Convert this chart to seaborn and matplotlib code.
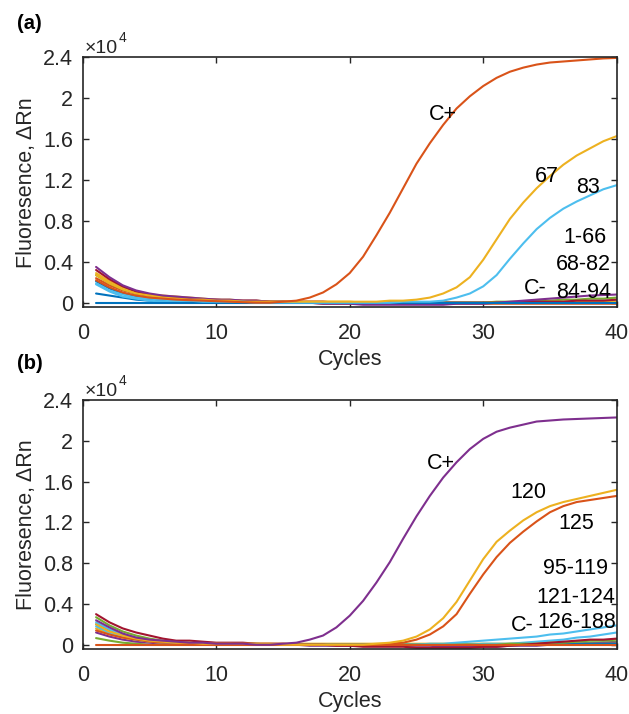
import matplotlib
matplotlib.use("Agg")
import matplotlib.pyplot as plt
import pandas as pd
import seaborn as sns

# qPCR amplification curves, fluorescence in units of 1e4
cycles = list(range(1, 41))

# ── panel (a): samples 1-94 ───────────────────────────────────────────────────
a_cpos = [0.22, 0.15, 0.10, 0.07, 0.05, 0.04, 0.03, 0.025, 0.02, 0.015,
          0.01, 0.005, 0.00, 0.00, 0.01, 0.02, 0.05, 0.10, 0.18, 0.29,
          0.45, 0.66, 0.88, 1.12, 1.36, 1.56, 1.74, 1.90, 2.02, 2.12,
          2.20, 2.26, 2.30, 2.33, 2.35, 2.36, 2.37, 2.38, 2.39, 2.395]
a_67 = [0.27, 0.19, 0.13, 0.09, 0.07, 0.05, 0.04, 0.03, 0.03, 0.02,
        0.02, 0.01, 0.01, 0.01, 0.01, 0.01, 0.01, 0.01, 0.01, 0.01,
        0.01, 0.01, 0.02, 0.02, 0.03, 0.05, 0.09, 0.15, 0.25, 0.42,
        0.62, 0.82, 0.98, 1.12, 1.24, 1.35, 1.44, 1.51, 1.58, 1.63]
a_83 = [0.19, 0.12, 0.08, 0.05, 0.04, 0.03, 0.02, 0.02, 0.01, 0.01,
        0.01, 0.01, 0.00, 0.00, 0.00, 0.00, 0.00, 0.00, 0.00, 0.00,
        0.00, 0.00, 0.00, 0.01, 0.01, 0.01, 0.02, 0.05, 0.09, 0.16,
        0.27, 0.43, 0.58, 0.72, 0.83, 0.92, 0.99, 1.05, 1.11, 1.15]
a_cneg = [0.00, 0.00, 0.00, 0.00, 0.00, 0.00, 0.00, 0.00, 0.00, 0.00,
          0.00, 0.00, 0.00, 0.00, 0.00, 0.00, 0.00, 0.00, 0.00, 0.00,
          0.00, 0.00, 0.00, 0.00, 0.00, 0.00, 0.00, 0.00, 0.00, 0.00,
          0.00, 0.00, 0.00, 0.00, 0.00, 0.00, 0.00, 0.00, 0.00, 0.00]
a_neg1 = [0.35, 0.25, 0.17, 0.12, 0.09, 0.07, 0.06, 0.05, 0.04, 0.03,
          0.03, 0.02, 0.02, 0.01, 0.01, 0.00, 0.00, -0.01, -0.01, -0.01,
          -0.02, -0.02, -0.02, -0.02, -0.02, -0.02, -0.02, -0.01, -0.01, -0.01,
          0.00, 0.01, 0.02, 0.03, 0.04, 0.05, 0.06, 0.07, 0.075, 0.08]
a_neg2 = [0.32, 0.23, 0.16, 0.11, 0.08, 0.06, 0.05, 0.04, 0.03, 0.03,
          0.02, 0.02, 0.02, 0.01, 0.01, 0.01, 0.01, 0.01, 0.00, 0.00,
          0.00, 0.00, 0.00, 0.00, 0.00, 0.00, 0.00, 0.00, 0.00, 0.00,
          0.00, 0.00, 0.01, 0.01, 0.01, 0.01, 0.02, 0.02, 0.02, 0.03]
a_neg3 = [0.29, 0.21, 0.15, 0.11, 0.08, 0.07, 0.06, 0.05, 0.04, 0.03,
          0.03, 0.02, 0.02, 0.01, 0.01, 0.01, 0.01, 0.01, 0.01, 0.01,
          0.00, 0.00, 0.00, 0.00, 0.00, 0.00, 0.00, 0.00, 0.00, 0.00,
          0.00, 0.00, 0.00, 0.00, 0.01, 0.01, 0.01, 0.01, 0.01, 0.01]
a_neg4 = [0.27, 0.19, 0.13, 0.09, 0.07, 0.05, 0.04, 0.03, 0.03, 0.02,
          0.02, 0.01, 0.01, 0.01, 0.01, 0.00, 0.00, 0.00, 0.00, 0.00,
          0.00, 0.00, 0.00, 0.00, 0.00, 0.00, 0.00, 0.00, 0.00, 0.00,
          0.01, 0.01, 0.01, 0.02, 0.02, 0.03, 0.03, 0.04, 0.04, 0.05]
a_neg5 = [0.24, 0.17, 0.12, 0.09, 0.07, 0.05, 0.04, 0.03, 0.03, 0.02,
          0.02, 0.01, 0.01, 0.01, 0.00, 0.00, 0.00, -0.01, -0.01, -0.01,
          -0.01, -0.01, -0.01, -0.01, -0.01, -0.01, -0.01, -0.01, -0.01, -0.01,
          -0.01, -0.01, -0.01, -0.01, -0.01, -0.01, -0.01, -0.01, -0.01, -0.01]
a_neg6 = [0.18, 0.11, 0.06, 0.04, 0.02, 0.01, 0.01, 0.00, 0.00, 0.00,
          0.00, 0.00, 0.00, 0.00, 0.00, 0.00, 0.00, 0.00, 0.00, 0.00,
          0.00, 0.00, 0.00, 0.00, 0.00, 0.00, 0.00, 0.00, 0.00, 0.00,
          0.00, 0.00, 0.00, 0.01, 0.01, 0.01, 0.01, 0.02, 0.02, 0.02]
a_neg7 = [0.21, 0.14, 0.09, 0.06, 0.04, 0.03, 0.02, 0.02, 0.01, 0.01,
          0.01, 0.00, 0.00, 0.00, 0.00, 0.00, 0.00, 0.00, 0.00, 0.00,
          0.00, 0.00, 0.00, 0.00, 0.00, 0.00, 0.00, 0.00, 0.00, 0.00,
          0.00, 0.00, 0.00, 0.00, 0.00, 0.00, 0.00, 0.00, 0.01, 0.01]
a_neg8 = [0.09, 0.07, 0.05, 0.03, 0.02, 0.01, 0.01, 0.00, 0.00, 0.00,
          0.00, 0.00, 0.00, 0.00, 0.00, 0.00, 0.00, 0.00, 0.00, 0.00,
          0.00, 0.00, 0.00, 0.00, 0.00, 0.00, 0.00, 0.00, 0.00, 0.00,
          0.00, 0.00, 0.00, 0.00, 0.00, 0.00, 0.00, 0.00, 0.00, 0.00]

# ── panel (b): samples 95-188 ─────────────────────────────────────────────────
b_cpos = [0.24, 0.17, 0.11, 0.07, 0.05, 0.04, 0.03, 0.02, 0.02, 0.01,
          0.01, 0.01, 0.00, 0.00, 0.01, 0.02, 0.05, 0.09, 0.17, 0.285,
          0.43, 0.61, 0.81, 1.04, 1.26, 1.46, 1.64, 1.79, 1.92, 2.02,
          2.09, 2.13, 2.16, 2.19, 2.20, 2.21, 2.215, 2.22, 2.225, 2.23]
b_120 = [0.20, 0.13, 0.09, 0.06, 0.04, 0.03, 0.02, 0.02, 0.01, 0.01,
         0.01, 0.01, 0.01, 0.01, 0.00, 0.00, 0.00, 0.00, 0.00, 0.00,
         0.00, 0.01, 0.02, 0.04, 0.08, 0.15, 0.26, 0.42, 0.63, 0.84,
         1.01, 1.12, 1.22, 1.30, 1.36, 1.40, 1.43, 1.46, 1.49, 1.52]
b_125 = [0.14, 0.10, 0.07, 0.05, 0.03, 0.02, 0.02, 0.01, 0.01, 0.01,
         0.01, 0.00, 0.00, 0.00, 0.00, 0.00, 0.00, 0.00, 0.00, 0.00,
         0.00, 0.00, 0.01, 0.02, 0.05, 0.10, 0.18, 0.30, 0.50, 0.69,
         0.86, 1.00, 1.11, 1.21, 1.30, 1.36, 1.40, 1.42, 1.44, 1.46]
b_cneg = [0.00, 0.00, 0.00, 0.00, 0.00, 0.00, 0.00, 0.00, 0.00, 0.00,
          0.00, 0.00, 0.00, 0.00, 0.00, 0.00, 0.00, 0.00, 0.00, 0.00,
          0.00, 0.00, 0.00, 0.00, 0.00, 0.00, 0.00, 0.00, 0.00, 0.00,
          0.00, 0.00, 0.00, 0.00, 0.00, 0.00, 0.00, 0.00, 0.00, 0.00]
b_neg1 = [0.30, 0.22, 0.16, 0.12, 0.09, 0.06, 0.04, 0.04, 0.03, 0.02,
          0.02, 0.02, 0.01, 0.01, 0.01, 0.00, 0.00, 0.00, -0.01, -0.01,
          -0.02, -0.02, -0.02, -0.02, -0.03, -0.03, -0.03, -0.03, -0.03, -0.02,
          -0.02, -0.01, 0.00, 0.01, 0.02, 0.03, 0.04, 0.05, 0.05, 0.06]
b_neg2 = [0.27, 0.19, 0.13, 0.09, 0.06, 0.04, 0.03, 0.02, 0.02, 0.01,
          0.01, 0.01, 0.01, 0.00, 0.00, 0.00, 0.00, 0.00, 0.00, 0.00,
          0.00, 0.00, 0.00, 0.00, 0.00, 0.00, 0.00, 0.00, 0.00, 0.00,
          0.00, 0.01, 0.01, 0.01, 0.02, 0.02, 0.03, 0.04, 0.04, 0.05]
b_neg3 = [0.22, 0.15, 0.10, 0.07, 0.05, 0.03, 0.02, 0.01, 0.01, 0.00,
          0.00, 0.00, 0.00, 0.00, 0.00, 0.00, 0.00, 0.00, 0.00, 0.00,
          0.00, 0.00, 0.00, 0.00, 0.00, 0.01, 0.01, 0.02, 0.03, 0.04,
          0.05, 0.06, 0.07, 0.08, 0.10, 0.11, 0.13, 0.15, 0.17, 0.19]
b_neg4 = [0.18, 0.12, 0.08, 0.05, 0.03, 0.02, 0.01, 0.01, 0.00, 0.00,
          0.00, 0.00, 0.00, 0.00, 0.00, 0.00, 0.00, 0.00, 0.00, 0.00,
          0.00, 0.00, 0.00, 0.00, 0.00, 0.00, 0.00, 0.00, 0.00, 0.01,
          0.01, 0.01, 0.02, 0.03, 0.04, 0.05, 0.07, 0.08, 0.10, 0.12]
b_neg5 = [0.20, 0.14, 0.09, 0.06, 0.04, 0.03, 0.02, 0.01, 0.01, 0.01,
          0.00, 0.00, 0.00, 0.00, 0.00, 0.00, 0.00, 0.00, 0.00, 0.00,
          0.00, 0.00, 0.00, 0.00, 0.00, 0.00, 0.00, 0.00, 0.00, 0.00,
          0.00, 0.00, 0.00, 0.00, 0.00, 0.01, 0.01, 0.01, 0.01, 0.01]
b_neg6 = [0.16, 0.11, 0.07, 0.05, 0.03, 0.02, 0.02, 0.01, 0.01, 0.01,
          0.01, 0.01, 0.01, 0.01, 0.01, 0.01, 0.01, 0.01, 0.01, 0.01,
          0.01, 0.01, 0.01, 0.01, 0.01, 0.01, 0.01, 0.01, 0.01, 0.01,
          0.01, 0.01, 0.01, 0.01, 0.01, 0.01, 0.01, 0.01, 0.01, 0.01]
b_neg7 = [0.12, 0.08, 0.05, 0.03, 0.02, 0.01, 0.00, 0.00, 0.00, 0.00,
          0.00, 0.00, 0.00, 0.00, 0.00, 0.00, -0.01, -0.01, -0.01, -0.01,
          -0.01, -0.01, -0.01, -0.01, -0.01, -0.01, -0.02, -0.02, -0.02, -0.02,
          -0.02, -0.01, -0.01, -0.01, 0.00, 0.00, 0.01, 0.01, 0.02, 0.02]
b_neg8 = [0.065, 0.04, 0.02, 0.01, 0.00, 0.00, 0.00, 0.00, 0.00, 0.00,
          0.00, 0.00, 0.00, 0.00, 0.00, 0.00, 0.00, 0.00, 0.00, 0.00,
          0.00, 0.00, 0.00, 0.00, 0.00, 0.00, 0.00, 0.00, 0.00, 0.00,
          0.00, 0.00, 0.00, 0.00, 0.00, 0.01, 0.01, 0.02, 0.02, 0.03]

y_ticks = [0, 0.4, 0.8, 1.2, 1.6, 2, 2.4]
y_ticklabels = ["0", "0.4", "0.8", "1.2", "1.6", "2", "2.4"]
x_ticks = [0, 10, 20, 30, 40]

# MATLAB default line colours
BLUE, ORANGE, YELLOW = "#0072BD", "#D95319", "#EDB120"
PURPLE, GREEN, LBLUE, DRED = "#7E2F8E", "#77AC30", "#4DBEEE", "#A2142F"

panel_a = {
    "neg8": (a_neg8, BLUE), "neg7": (a_neg7, BLUE), "neg6": (a_neg6, LBLUE),
    "neg5": (a_neg5, ORANGE), "neg4": (a_neg4, GREEN), "neg3": (a_neg3, YELLOW),
    "neg2": (a_neg2, DRED), "neg1": (a_neg1, PURPLE), "C-": (a_cneg, BLUE),
    "83": (a_83, LBLUE), "67": (a_67, YELLOW), "C+": (a_cpos, ORANGE),
}
panel_b = {
    "neg8": (b_neg8, GREEN), "neg7": (b_neg7, PURPLE), "neg6": (b_neg6, YELLOW),
    "neg5": (b_neg5, BLUE), "neg4": (b_neg4, LBLUE), "neg3": (b_neg3, LBLUE),
    "neg2": (b_neg2, GREEN), "neg1": (b_neg1, DRED), "C-": (b_cneg, ORANGE),
    "125": (b_125, ORANGE), "120": (b_120, YELLOW), "C+": (b_cpos, PURPLE),
}

# label text and its centre (cycle, value)
labels_a = [("C+", 27.0, 1.84), ("67", 34.8, 1.23), ("83", 37.85, 1.13),
            ("1-66", 37.6, 0.64), ("68-82", 37.5, 0.37), ("C-", 33.9, 0.135),
            ("84-94", 37.5, 0.10)]
labels_b = [("C+", 26.8, 1.78), ("120", 33.35, 1.49), ("125", 37.0, 1.19),
            ("95-119", 36.9, 0.75), ("121-124", 36.9, 0.46), ("C-", 32.9, 0.19),
            ("126-188", 37.0, 0.22)]

sns.set_style("ticks")
plt.rcParams["font.family"] = ["Liberation Sans", "DejaVu Sans"]
TXT = "#262626"
FS = 15.5


def draw_panel(ax, series, labels, tag, tag_y):
    df = pd.DataFrame({k: v[0] for k, v in series.items()}, index=cycles)
    df = df.rename_axis("cycle").reset_index().melt(
        id_vars="cycle", var_name="sample", value_name="rn")
    palette = {k: v[1] for k, v in series.items()}
    sns.lineplot(data=df, x="cycle", y="rn", hue="sample",
                 hue_order=list(series.keys()), palette=palette,
                 linewidth=1.5, legend=False, ax=ax)
    ax.set_xlim(0, 40)
    ax.set_ylim(-0.045, 2.4)
    ax.set_xticks(x_ticks)
    ax.set_yticks(y_ticks)
    ax.set_yticklabels(y_ticklabels)
    ax.tick_params(direction="in", length=4, width=1.0, colors=TXT,
                   labelsize=FS, top=True, right=True)
    ax.tick_params(axis="x", pad=11)
    ax.tick_params(axis="y", pad=7)
    for sp in ax.spines.values():
        sp.set_visible(True)
        sp.set_color(TXT)
        sp.set_linewidth(1.2)
    ax.set_xlabel("Cycles", fontsize=FS, color=TXT, labelpad=4)
    ax.set_ylabel("Fluoresence, \u0394Rn", fontsize=FS, color=TXT, labelpad=4)
    for text, x, y in labels:
        ax.text(x, y, text, ha="center", va="center", fontsize=FS,
                color="black")
    # MATLAB-style exponent above the y axis
    ax.text(0.004, 1.016, "\u00d710", transform=ax.transAxes,
            ha="left", va="baseline", fontsize=14, color=TXT)
    ax.text(0.067, 1.104, "4", transform=ax.transAxes,
            ha="left", va="top", fontsize=10, color=TXT)
    ax.text(-0.123, tag_y, tag, transform=ax.transAxes, ha="left",
            va="center", fontsize=14.5, fontweight="bold", color="black")


fig = plt.figure(figsize=(6.29, 7.14), dpi=100)
ax_a = fig.add_axes([0.1315, 0.5696, 0.849, 0.350])
ax_b = fig.add_axes([0.1315, 0.0906, 0.849, 0.349])
draw_panel(ax_a, panel_a, labels_a, "(a)", 1.135)
draw_panel(ax_b, panel_b, labels_b, "(b)", 1.148)

fig.savefig("out.png", dpi=100)
